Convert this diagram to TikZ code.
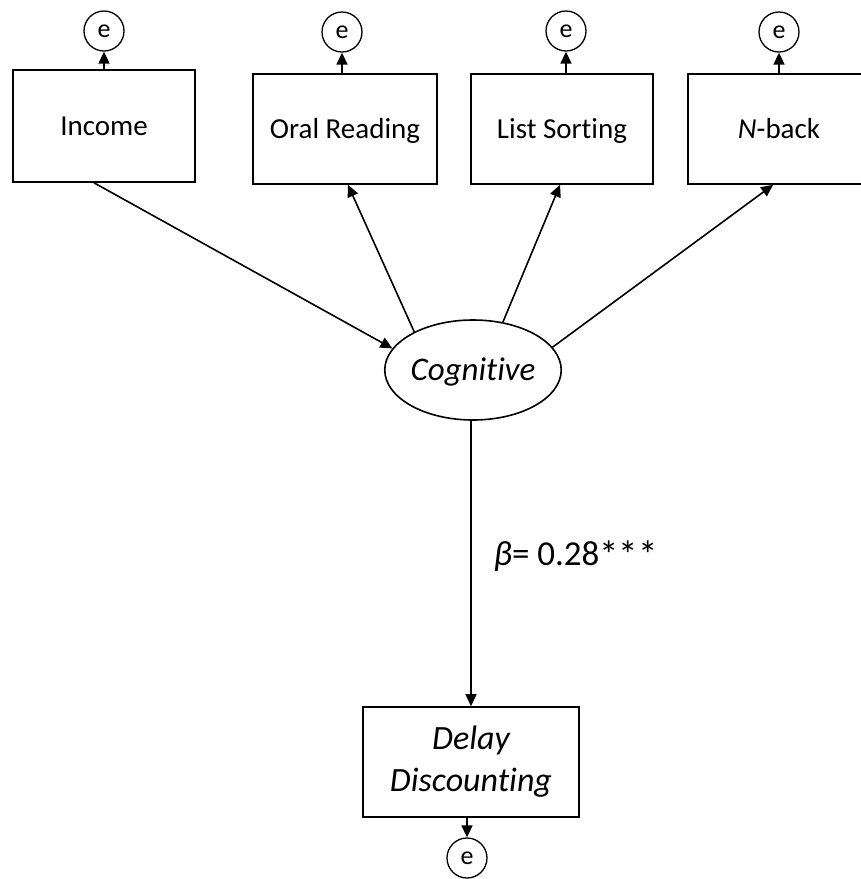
\documentclass[tikz,border=0pt]{standalone}
\usepackage{amsmath}
\usepackage{fontspec}
\setmainfont{Carlito}[Ligatures=NoCommon]
\usetikzlibrary{arrows.meta}
\usetikzlibrary{shapes.geometric}
\tikzstyle{obs}=[rectangle,draw=black,line width=1.6pt,minimum width=182pt,minimum height=110pt,inner sep=0pt,text height=19pt,text depth=0pt,font=\fontsize{29}{35}\selectfont]
\tikzstyle{lat}=[ellipse,draw=black,line width=1.6pt,minimum width=170pt,minimum height=100pt,inner sep=0pt,text height=21pt,text depth=0pt,font=\fontsize{33}{39}\selectfont\itshape]
\tikzstyle{err}=[circle,draw=black,line width=1.3pt,minimum size=40pt,inner sep=0pt,text height=12pt,text depth=0pt,font=\fontsize{26}{30}\selectfont]
\tikzstyle{path}=[-{Triangle[length=12pt,width=11pt]},line width=1.6pt]

\begin{document}
\begin{tikzpicture}[x=1pt,y=-1pt]
        \useasboundingbox (0,0) rectangle (861,879);
        % indicators
        \node [style = obs, minimum height=112pt] (income) at (104, 126) {Income};
        \node [style = obs, minimum width=184pt] (oral) at (345, 129) {Oral Reading};
        \node [style = obs] (list) at (562, 129) {List Sorting};
        \node [style = obs] (nback) at (779, 129) {\textit{N}-back};
        \node [style = lat] (cog) at (473, 370) {Cognitive};
        \node [draw=black, line width=1.6pt, minimum width=216pt, minimum height=110pt, inner sep=0pt, align=center, font=\fontsize{34}{42}\selectfont\itshape] (delay) at (471, 762) {Delay\\Discounting};
        \node [anchor=base west, font=\fontsize{35}{40}\selectfont] (beta) at (490, 565) {\textit{β}= 0.28\raisebox{-3pt}{\fontsize{39}{40}\selectfont***}};
        % error terms
        \node [style = err] (e1) at (104, 31) {e};
        \node [style = err] (e2) at (342, 32) {e};
        \node [style = err] (e3) at (566, 31) {e};
        \node [style = err] (e4) at (779, 32) {e};
        \node [style = err] (e5) at (467, 858) {e};

        \draw [style = path] (income.-100) to (cog.165);
        \draw [style = path] (cog.147) to (oral.-87);
        \draw [style = path] (cog.58) to (list.-92);
        \draw [style = path] (cog.16) to (nback.-96);
        \draw [style = path] (cog.south -| delay.north) to (delay.north);
        \draw [style = path] (income.north) to (e1);
        \draw [style = path] (oral.north -| e2.south) to (e2);
        \draw [style = path] (list.north -| e3.south) to (e3);
        \draw [style = path] (nback.north) to (e4);
        \draw [style = path] (delay.south -| e5.north) to (e5);
\end{tikzpicture}
\end{document}
